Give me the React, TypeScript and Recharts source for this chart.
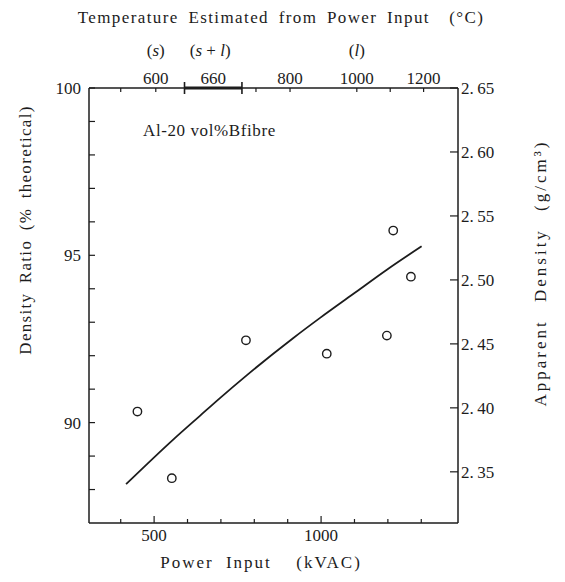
import React from "react";
import {
  ComposedChart,
  Line,
  ReferenceLine,
  Scatter,
  XAxis,
  YAxis,
} from "recharts";

// power input (kVAC) axis
const powerDomain = [305, 1410];
const powerTicks = [400, 500, 600, 700, 800, 900, 1000, 1100, 1200, 1300];
const powerLabels = [500, 1000];

// density ratio (% theoretical) axis
const ratioDomain = [87, 100];
const ratioTicks = [88, 89, 90, 91, 92, 93, 94, 95, 96, 97, 98, 99, 100];
const ratioLabels = [90, 95, 100];

// apparent density (g/cm3) axis
const densityDomain = [2.31, 2.65];
const densityTicks = [2.35, 2.4, 2.45, 2.5, 2.55, 2.6, 2.65];

// temperature scale drawn along the top, placed at power input values
const tempTicks = [400, 505, 591, 677, 763, 805, 907, 1107, 1207, 1307];
const tempLabels: Record<number, string> = {
  505: "600",
  677: "660",
  907: "800",
  1107: "1000",
  1307: "1200",
};
const phaseBounds = [591, 763];

const measured = [
  { p: 450, r: 90.33 },
  { p: 553, r: 88.34 },
  { p: 775, r: 92.46 },
  { p: 1017, r: 92.06 },
  { p: 1197, r: 92.6 },
  { p: 1216, r: 95.74 },
  { p: 1269, r: 94.36 },
];

const fitted = [
  { p: 416, r: 88.16 },
  { p: 558, r: 89.5 },
  { p: 638, r: 90.21 },
  { p: 698, r: 90.74 },
  { p: 778, r: 91.42 },
  { p: 917, r: 92.53 },
  { p: 997, r: 93.13 },
  { p: 1097, r: 93.85 },
  { p: 1197, r: 94.57 },
  { p: 1301, r: 95.27 },
];

const ink = "#1c1c1c";
const serif = "'Liberation Serif', 'DejaVu Serif', serif";
const textStyle = { fontFamily: serif, fontSize: 17, fill: ink };

const BottomTick = ({ x, y, payload }: any) => {
  const major = powerLabels.includes(payload.value);
  return (
    <g>
      <line x1={x} x2={x} y1={y} y2={y - (major ? 7 : 4)} stroke={ink} strokeWidth={1.2} />
      {major && (
        <text x={x} y={y + 18} textAnchor="middle" style={textStyle}>
          {payload.value}
        </text>
      )}
    </g>
  );
};

const LeftTick = ({ x, y, payload }: any) => (
  <g>
    <line x1={x} x2={x + 6} y1={y} y2={y} stroke={ink} strokeWidth={1.2} />
    {ratioLabels.includes(payload.value) && (
      <text x={x - 8} y={y + 6} textAnchor="end" style={textStyle}>
        {payload.value}
      </text>
    )}
  </g>
);

const RightTick = ({ x, y, payload }: any) => {
  const [a, b] = payload.value.toFixed(2).split(".");
  return (
    <g>
      <line x1={x} x2={x - 8} y1={y} y2={y} stroke={ink} strokeWidth={1.2} />
      <text x={x + 3} y={y + 6} textAnchor="start" style={textStyle}>
        {`${a}.\u2009${b}`}
      </text>
    </g>
  );
};

const TopTick = ({ x, y, payload }: any) => {
  const v = payload.value;
  const bound = phaseBounds.includes(v);
  const label = tempLabels[v];
  return (
    <g>
      {v !== 677 && (
        <line
          x1={x}
          x2={x}
          y1={bound ? y - 6 : y}
          y2={bound ? y + 6 : y + 4}
          stroke={ink}
          strokeWidth={bound ? 1.6 : 1.2}
        />
      )}
      {label && (
        <text x={x} y={y - 4} textAnchor="middle" style={textStyle}>
          {label}
        </text>
      )}
      {v === 505 && (
        <text x={x} y={y - 32} textAnchor="middle" style={textStyle}>
          (<tspan fontStyle="italic">s</tspan>)
        </text>
      )}
      {v === 677 && (
        <text x={x - 3} y={y - 32} textAnchor="middle" style={textStyle}>
          (<tspan fontStyle="italic">s</tspan> + <tspan fontStyle="italic">l</tspan>)
        </text>
      )}
      {v === 1107 && (
        <text x={x} y={y - 32} textAnchor="middle" style={textStyle}>
          (<tspan fontStyle="italic">l</tspan>)
        </text>
      )}
    </g>
  );
};

const OpenCircle = ({ cx, cy }: any) => (
  <circle cx={cx} cy={cy} r={4.2} fill="#fff" stroke={ink} strokeWidth={1.4} />
);

const NoShape = () => <g />;

export default function App() {
  return (
    <div style={{ position: "absolute", left: 0, top: 0, background: "#fff" }}>
      <ComposedChart
        width={565}
        height={582}
        margin={{ top: 48, right: 47, bottom: 29, left: 29 }}
      >
        <XAxis
          xAxisId="bottom"
          dataKey="p"
          type="number"
          domain={powerDomain}
          ticks={powerTicks}
          interval={0}
          tickSize={0}
          tickMargin={0}
          tickLine={false}
          tick={<BottomTick />}
          height={30}
          axisLine={{ stroke: ink, strokeWidth: 1.5 }}
          allowDataOverflow
        />
        <XAxis
          xAxisId="top"
          dataKey="p"
          orientation="top"
          type="number"
          domain={powerDomain}
          ticks={tempTicks}
          interval={0}
          tickSize={0}
          tickMargin={0}
          tickLine={false}
          tick={<TopTick />}
          height={40}
          axisLine={{ stroke: ink, strokeWidth: 1.5 }}
          allowDataOverflow
        />
        <YAxis
          yAxisId="left"
          type="number"
          domain={ratioDomain}
          ticks={ratioTicks}
          interval={0}
          tickSize={0}
          tickMargin={0}
          tickLine={false}
          tick={<LeftTick />}
          width={60}
          axisLine={{ stroke: ink, strokeWidth: 1.5 }}
          allowDataOverflow
        />
        <YAxis
          yAxisId="right"
          orientation="right"
          type="number"
          domain={densityDomain}
          ticks={densityTicks}
          interval={0}
          tickSize={0}
          tickMargin={0}
          tickLine={false}
          tick={<RightTick />}
          width={60}
          axisLine={{ stroke: ink, strokeWidth: 1.5 }}
          allowDataOverflow
        />
        <ReferenceLine
          xAxisId="bottom"
          yAxisId="left"
          segment={[
            { x: phaseBounds[0], y: 100 },
            { x: phaseBounds[1], y: 100 },
          ]}
          stroke={ink}
          strokeWidth={3}
          ifOverflow="visible"
        />
        <Line
          xAxisId="bottom"
          yAxisId="left"
          data={fitted}
          dataKey="r"
          type="monotone"
          stroke={ink}
          strokeWidth={1.8}
          dot={false}
          activeDot={false}
          isAnimationActive={false}
        />
        {/* keeps the top temperature axis tied to a series so its ticks render */}
        <Scatter
          xAxisId="top"
          yAxisId="right"
          data={measured}
          dataKey="r"
          shape={<NoShape />}
          legendType="none"
          isAnimationActive={false}
        />
        <Scatter
          xAxisId="bottom"
          yAxisId="left"
          data={measured}
          dataKey="r"
          shape={<OpenCircle />}
          isAnimationActive={false}
        />
        <text x={281} y={23} textAnchor="middle" style={{ ...textStyle, letterSpacing: 1.4, wordSpacing: 4 }}>
          Temperature Estimated from Power Input {"\u00a0"}(°C)
        </text>
        <text x={143} y={136} style={{ ...textStyle, letterSpacing: 0.6 }}>
          Al-20 vol%Bfibre
        </text>
        <text x={261} y={568} textAnchor="middle" style={{ ...textStyle, letterSpacing: 2, wordSpacing: 6 }}>
          Power Input {"\u00a0"}(kVAC)
        </text>
        <text
          transform="translate(31, 230) rotate(-90)"
          textAnchor="middle"
          style={{ ...textStyle, letterSpacing: 1.3, wordSpacing: 4 }}
        >
          Density Ratio (% theoretical)
        </text>
        <text
          transform="translate(546, 273) rotate(-90)"
          textAnchor="middle"
          style={{ ...textStyle, letterSpacing: 3, wordSpacing: 10 }}
        >
          Apparent Density (g/cm³)
        </text>
      </ComposedChart>
    </div>
  );
}
